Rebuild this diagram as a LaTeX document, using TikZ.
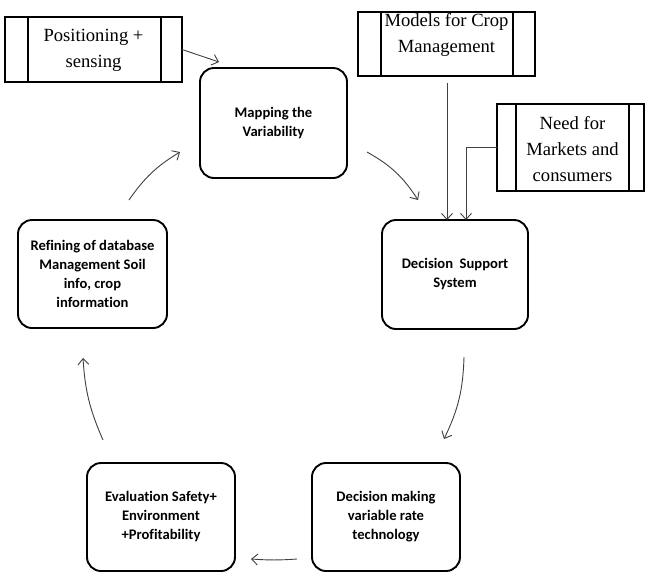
\documentclass[tikz,border=0pt]{standalone}
\usepackage{fontspec}
\setmainfont{Liberation Serif}
\newfontfamily\calfont[Ligatures=NoCommon]{Carlito}
\usetikzlibrary{arrows.meta}
\begin{document}
\begin{tikzpicture}[x=1pt,y=-1pt,
  cyclebox/.style={draw, line width=1.9pt, rounded corners=14pt, align=center,
    inner sep=0pt, outer sep=0pt, font=\calfont\bfseries\fontsize{14.6}{19}\selectfont},
  procbox/.style={draw, line width=2pt, inner sep=0pt, outer sep=0pt},
  proctext/.style={align=center, inner sep=0pt, font=\fontsize{18.6}{26}\selectfont},
  barline/.style={line width=2pt},
  conn/.style={draw=black!75, line width=0.9pt, -{Straight Barb[length=6pt,width=11pt]}}]
\useasboundingbox (0,0) rectangle (646,574);

% cycle boxes
\node[cyclebox, minimum width=147pt, minimum height=110pt] (map) at (273.5,123) {Mapping the\\Variability};
\node[cyclebox, minimum width=146pt, minimum height=109pt] (dss) at (455,274.5) {Decision\ \ Support\\System};
\node[cyclebox, minimum width=148pt, minimum height=108pt] (dec) at (386,517) {Decision making\\variable rate\\technology};
\node[cyclebox, minimum width=148pt, minimum height=108pt] (eval) at (161,517) {Evaluation Safety+\\Environment\\+Profitability};
\node[cyclebox, minimum width=149pt, minimum height=108pt] (ref) at (92.5,274) {Refining of database\\Management Soil\\info, crop\\information};

% process boxes
\node[procbox, minimum width=177pt, minimum height=65pt] (pos) at (93.5,49.5) {};
\node[proctext] (postext) at (93.5,50) {Positioning +\\sensing};
\draw[barline] ([xshift=23pt]pos.north west) -- ([xshift=23pt]pos.south west);
\draw[barline] ([xshift=-21pt]pos.north east) -- ([xshift=-21pt]pos.south east);

\node[procbox, minimum width=177pt, minimum height=64pt] (models) at (446.5,44) {};
\node[proctext] (modelstext) at (446.5,35) {Models for Crop\\Management};
\draw[barline] ([xshift=23pt]models.north west) -- ([xshift=23pt]models.south west);
\draw[barline] ([xshift=-22pt]models.north east) -- ([xshift=-22pt]models.south east);

\node[procbox, minimum width=147pt, minimum height=87pt] (need) at (570.5,147.5) {};
\node[proctext] (needtext) at (572.5,149) {Need for\\Markets and\\consumers};
\draw[barline] ([xshift=19pt]need.north west) -- ([xshift=19pt]need.south west);
\draw[barline] ([xshift=-15pt]need.north east) -- ([xshift=-15pt]need.south east);

% free ends of the cycle arrows
\coordinate (a1s) at (129,200); \coordinate (a1e) at (180,152);
\coordinate (a2s) at (367,152); \coordinate (a2e) at (418,200);
\coordinate (a3s) at (464,357); \coordinate (a3e) at (444,439);
\coordinate (a4s) at (297,559); \coordinate (a4e) at (251,559);
\coordinate (a5s) at (103,440); \coordinate (a5e) at (83,358);
\coordinate (p1e) at (219,62);
\coordinate (m1s) at (447,83);

\draw[conn] (a1s) to[bend left=12] (a1e);
\draw[conn] (a2s) to[bend left=14] (a2e);
\draw[conn] (a3s) to[bend left=12] (a3e);
\draw[conn] (a4s) to[bend left=4] (a4e);
\draw[conn] (a5s) to[bend left=10] (a5e);

\draw[conn] (pos.east) -- (p1e);
\draw[conn] (m1s) -- (m1s |- dss.north);
\draw[conn] (need.west) -| ([xshift=11pt]dss.north);
\end{tikzpicture}
\end{document}
